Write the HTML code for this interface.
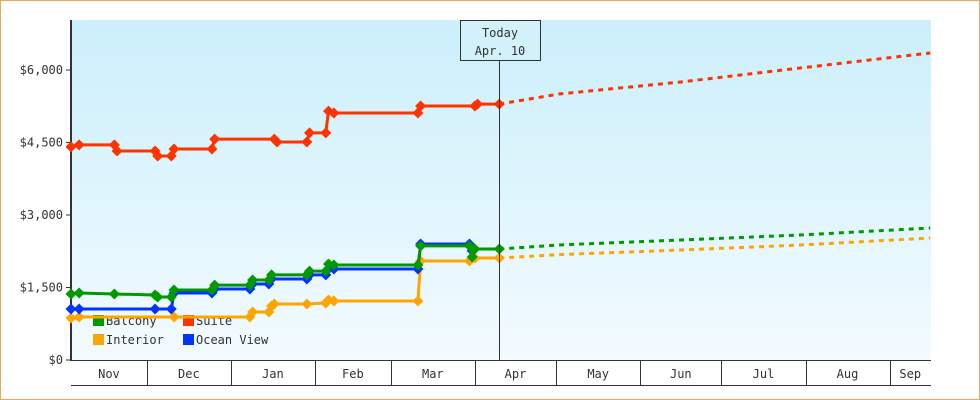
<!DOCTYPE html>
<html><head><meta charset="utf-8"><style>
html,body{margin:0;padding:0;background:#fff}
svg{display:block}
text{font-family:"DejaVu Sans Mono","Liberation Mono",monospace;font-size:12px;fill:#333}
</style></head><body>
<svg width="980" height="400" xmlns="http://www.w3.org/2000/svg">
<defs><linearGradient id="bg" x1="0" y1="0" x2="0" y2="1"><stop offset="0" stop-color="#cbeffb"/><stop offset="1" stop-color="#f3fbff"/></linearGradient></defs>
<rect x="0.5" y="0.5" width="979" height="399" fill="#fff" stroke="#e8a860"/>
<rect x="71" y="20" width="860" height="340" fill="url(#bg)"/>
<g id="legend"></g>
<g id="axes"></g>
<g id="series"></g>
<g id="today"></g>
</svg>
<script>
const yTicks=[0,1500,3000,4500,6000];
const yTickLabels=["$0","$1,500","$3,000","$4,500","$6,000"];
const months=["Nov","Dec","Jan","Feb","Mar","Apr","May","Jun","Jul","Aug","Sep"];
const monthStartDays=[-2,28,59,90,118,149,179,210,240,271,302];
const todayDay=158;
const todayLabel=["Today","Apr. 10"];
const seriesNames=["Balcony","Suite","Interior","Ocean View"];
const seriesColors=["#009900","#ff3300","#ffa500","#0033ff"];
const balconyDays=[0,3,16,31,32,37,38,52,53,66,67,73,74,87,88,94,95,97,128,129,147,148,149,158];
const balconyVals=[1366,1386,1366,1345,1303,1303,1448,1448,1550,1550,1655,1655,1760,1760,1840,1840,1986,1965,1965,2360,2360,2130,2296,2296];
const suiteDays=[0,3,16,17,31,32,37,38,52,53,75,76,87,88,94,95,97,128,129,149,150,158];
const suiteVals=[4410,4450,4450,4325,4325,4220,4220,4365,4365,4570,4570,4510,4510,4700,4700,5150,5110,5110,5255,5255,5295,5295];
const interiorDays=[0,3,38,66,67,73,74,75,87,94,95,97,128,129,147,149,158];
const interiorVals=[869,890,890,890,993,993,1117,1158,1158,1179,1241,1220,1220,2048,2048,2110,2110];
const oceanDays=[0,3,31,37,38,52,53,66,67,73,74,87,88,94,95,97,128,129,147,148];
const oceanVals=[1055,1055,1055,1055,1386,1386,1470,1470,1572,1572,1676,1676,1760,1760,1883,1883,1883,2400,2400,2260];
const fcDays=[158,180,225,269,317];
const suiteFc=[5295,5503,5752,6041,6352];
const balconyFc=[2296,2380,2483,2586,2731];
const interiorFc=[2110,2180,2276,2379,2524];

const NS="http://www.w3.org/2000/svg";
const X0=71,X1=931,Y0=360,Y1=70,DMAX=317.3;
const xs=d=>X0+d*(X1-X0)/DMAX;
const ys=v=>Y0-v*(Y0-Y1)/6000;
function mk(tag,attrs,parent){const e=document.createElementNS(NS,tag);for(const k in attrs)e.setAttribute(k,attrs[k]);parent.appendChild(e);return e;}
const axes=document.getElementById('axes'),ser=document.getElementById('series'),leg=document.getElementById('legend'),tg=document.getElementById('today');

const lpos=[[93,315],[183,315],[93,334],[183,334]];
seriesNames.forEach((n,i)=>{
 const r=mk('rect',{x:lpos[i][0],y:lpos[i][1],width:11,height:11,fill:seriesColors[i]},leg);
 
 
 const t=mk('text',{x:lpos[i][0]+13,y:lpos[i][1]+10},leg);t.textContent=n;
 
 
});

const ya=mk('line',{x1:71,y1:20,x2:71,y2:361,stroke:'#333','stroke-width':2},axes);


yTicks.forEach((v,i)=>{
 const tk=mk('line',{x1:66,x2:71,y1:ys(v),y2:ys(v),stroke:'#333','stroke-width':1},axes);
 
 
 const t=mk('text',{x:63,y:ys(v)+4,'text-anchor':'end'},axes);t.textContent=yTickLabels[i];
 
 
});
const xl=mk('line',{x1:71,x2:931,y1:360.5,y2:360.5,stroke:'#333'},axes);


const xb=mk('line',{x1:71,x2:931,y1:385.5,y2:385.5,stroke:'#333'},axes);


months.forEach((m,i)=>{
 const a=Math.max(X0,xs(monthStartDays[i]));
 const b=i+1<months.length?xs(monthStartDays[i+1]):X1;
 if(i>0){const s=mk('line',{x1:Math.round(a)+0.5,x2:Math.round(a)+0.5,y1:360,y2:385,stroke:'#333'},axes);
  
  }
 const t=mk('text',{x:(a+Math.min(b,X1))/2,y:378,'text-anchor':'middle',fill:'#111'},axes);t.textContent=m;
 
 
});

function drawSeries(name,color,days,vals,fc){
 const g=mk('g',{},ser);
 
 
 if(fc){const p=mk('polyline',{points:fcDays.map((d,i)=>xs(d)+','+ys(fc[i])).join(' '),fill:'none',stroke:color,'stroke-width':3,'stroke-dasharray':'5,5'},g);
  
  }
 const l=mk('polyline',{points:days.map((d,i)=>xs(d)+','+ys(vals[i])).join(' '),fill:'none',stroke:color,'stroke-width':3},g);
 
 
 days.forEach((d,i)=>{const x=xs(d),y=ys(vals[i]);
  const m=mk('polygon',{points:`${x},${y-5.5} ${x+5.5},${y} ${x},${y+5.5} ${x-5.5},${y}`,fill:color},g);
  
  });
}
drawSeries('suite',seriesColors[1],suiteDays,suiteVals,suiteFc);
drawSeries('interior',seriesColors[2],interiorDays,interiorVals,interiorFc);
drawSeries('ocean-view',seriesColors[3],oceanDays,oceanVals,null);
drawSeries('balcony',seriesColors[0],balconyDays,balconyVals,balconyFc);

const tx=Math.round(xs(todayDay))+0.5;
const tl=mk('line',{x1:tx,x2:tx,y1:60,y2:360,stroke:'#333'},tg);


const tb=mk('rect',{x:460.5,y:20.5,width:80,height:40,fill:'#d2f1fb',stroke:'#333'},tg);


todayLabel.forEach((s,i)=>{const t=mk('text',{x:500,y:37+i*18,'text-anchor':'middle'},tg);t.textContent=s;
 
 });
</script>
</body></html>
